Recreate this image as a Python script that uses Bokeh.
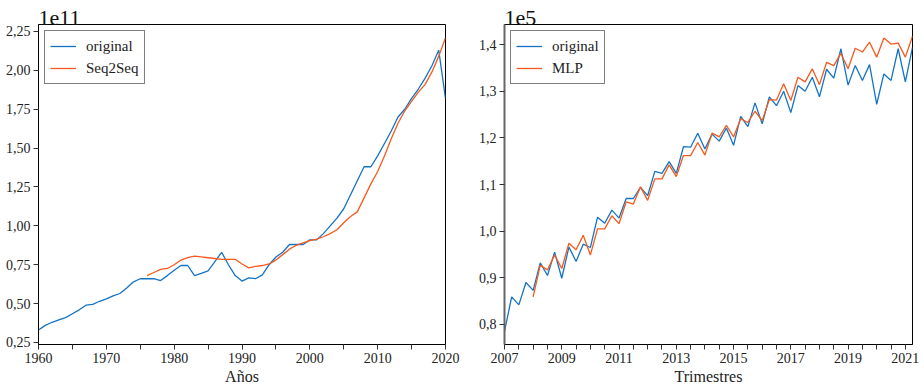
from bokeh.plotting import figure
from bokeh.layouts import row
from bokeh.models import Legend, LegendItem, FixedTicker, CustomJSTickFormatter, Range1d
from bokeh.embed import file_html
from bokeh.resources import INLINE

# ---------------- data ----------------
years = list(range(1960, 2021))
gdp_original = [0.33, 0.36, 0.38, 0.395, 0.41, 0.435, 0.46, 0.49, 0.495, 0.515,
                0.53, 0.55, 0.565, 0.60, 0.64, 0.66, 0.66, 0.66, 0.648, 0.68,
                0.715, 0.745, 0.745, 0.68, 0.695, 0.71, 0.77, 0.83, 0.75, 0.68,
                0.645, 0.665, 0.66, 0.685, 0.75, 0.80, 0.83, 0.88, 0.88, 0.88,
                0.91, 0.91, 0.95, 1.00, 1.05, 1.11, 1.20, 1.29, 1.38, 1.38,
                1.45, 1.53, 1.61, 1.70, 1.75, 1.82, 1.88, 1.95, 2.03, 2.13,
                1.82]
seq_years = list(range(1976, 2021))
gdp_seq2seq = [0.68, 0.70, 0.72, 0.726, 0.75, 0.78, 0.795, 0.805, 0.80, 0.795,
               0.79, 0.785, 0.785, 0.785, 0.755, 0.73, 0.74, 0.745, 0.755, 0.78,
               0.815, 0.85, 0.875, 0.89, 0.905, 0.915, 0.93, 0.95, 0.975, 1.02,
               1.06, 1.09, 1.18, 1.27, 1.35, 1.45, 1.56, 1.66, 1.74, 1.80,
               1.86, 1.91, 1.99, 2.09, 2.21]

quarters = [2007 + 0.25 * i for i in range(58)]
q_original = [0.785, 0.859, 0.842, 0.890, 0.873, 0.932, 0.905, 0.955, 0.899, 0.966,
              0.935, 0.972, 0.965, 1.030, 1.017, 1.045, 1.028, 1.070, 1.070, 1.094,
              1.076, 1.128, 1.124, 1.149, 1.124, 1.181, 1.180, 1.210, 1.176, 1.208,
              1.193, 1.221, 1.184, 1.246, 1.224, 1.275, 1.230, 1.288, 1.269, 1.300,
              1.254, 1.312, 1.300, 1.330, 1.288, 1.347, 1.328, 1.391, 1.313, 1.355,
              1.323, 1.357, 1.272, 1.337, 1.323, 1.391, 1.320, 1.394]
mlp_quarters = quarters[4:]
q_mlp = [0.859, 0.927, 0.917, 0.949, 0.920, 0.974, 0.960, 0.991, 0.949,
         1.005, 1.005, 1.033, 1.016, 1.063, 1.058, 1.095, 1.066, 1.112, 1.112,
         1.142, 1.117, 1.162, 1.162, 1.190, 1.163, 1.210, 1.202, 1.227, 1.202,
         1.241, 1.233, 1.257, 1.237, 1.282, 1.281, 1.316, 1.280, 1.330, 1.320,
         1.348, 1.314, 1.362, 1.355, 1.381, 1.348, 1.392, 1.384, 1.405, 1.373,
         1.414, 1.401, 1.403, 1.373, 1.418]

left_yticks = [0.25, 0.50, 0.75, 1.00, 1.25, 1.50, 1.75, 2.00, 2.25]
left_xticks = list(range(1960, 2021, 5))
right_yticks = [0.8, 0.9, 1.0, 1.1, 1.2, 1.3, 1.4]
right_xticks = [2007 + 0.5 * i for i in range(29)]

BLUE = "#1573c4"
ORANGE = "#f65a1e"
FONT = "Liberation Serif"


def style(p, title):
    p.title.text = title
    p.title.text_font = FONT
    p.title.text_font_size = "22px"
    p.title.text_font_style = "normal"
    p.title.text_color = "#111111"
    p.title.offset = 0
    p.title.standoff = 0
    p.xgrid.visible = False
    p.ygrid.visible = False
    p.outline_line_color = "black"
    p.outline_line_width = 1
    p.axis.major_label_text_font = FONT
    p.axis.major_label_text_font_size = "14px"
    p.axis.major_label_text_color = "#222222"
    p.axis.axis_label_text_font = FONT
    p.axis.axis_label_text_font_size = "16px"
    p.axis.axis_label_text_font_style = "normal"
    p.axis.axis_label_text_color = "#222222"
    p.axis.major_tick_out = 5
    p.axis.major_tick_in = 0
    p.axis.minor_tick_out = 0
    p.axis.minor_tick_in = 0
    p.axis.major_label_standoff = 3
    p.axis.axis_line_color = "black"
    p.axis.major_tick_line_color = "#333333"
    p.xaxis.axis_label_standoff = 2


def add_legend(p, r1, r2, l1, l2):
    leg = Legend(items=[LegendItem(label=l1, renderers=[r1]),
                        LegendItem(label=l2, renderers=[r2])],
                 location="top_left")
    leg.label_text_font = FONT
    leg.label_text_font_size = "15px"
    leg.label_text_color = "#222222"
    leg.border_line_color = "black"
    leg.border_line_width = 1
    leg.background_fill_alpha = 1
    leg.glyph_width = 26
    leg.glyph_height = 20
    leg.label_height = 20
    leg.spacing = 2
    leg.padding = 5
    leg.margin = 6
    leg.label_standoff = 10
    p.add_layout(leg)


# ---------------- left plot ----------------
p1 = figure(width=462, height=390, output_backend="svg", toolbar_location=None,
            x_range=Range1d(1960, 2020), y_range=Range1d(0.237, 2.295),
            min_border_left=38, min_border_right=17, min_border_top=24, min_border_bottom=46)
p1.xaxis.axis_label = "Años"
p1.xaxis.ticker = FixedTicker(ticks=left_xticks)
p1.xaxis.formatter = CustomJSTickFormatter(code="return (Math.round(tick) % 10 == 0) ? Math.round(tick).toString() : '';")
p1.yaxis.ticker = FixedTicker(ticks=left_yticks)
p1.yaxis.formatter = CustomJSTickFormatter(code="return tick.toFixed(2).replace('.', ',');")
style(p1, "1e11")
r1 = p1.line(years, gdp_original, line_color=BLUE, line_width=1.3)
r2 = p1.line(seq_years, gdp_seq2seq, line_color=ORANGE, line_width=1.3)
add_legend(p1, r1, r2, "original", "Seq2Seq")

# ---------------- right plot ----------------
p2 = figure(width=462, height=390, output_backend="svg", toolbar_location=None,
            x_range=Range1d(2007, 2021.25), y_range=Range1d(0.757, 1.443),
            min_border_left=42, min_border_right=12, min_border_top=24, min_border_bottom=46)
p2.xaxis.axis_label = "Trimestres"
p2.xaxis.ticker = FixedTicker(ticks=right_xticks)
p2.xaxis.formatter = CustomJSTickFormatter(
    code="var r = Math.round(tick); return (Math.abs(tick - r) < 1e-6 && Math.abs(r % 2) == 1) ? r.toString() : '';")
p2.yaxis.ticker = FixedTicker(ticks=right_yticks)
p2.yaxis.formatter = CustomJSTickFormatter(code="return tick.toFixed(1).replace('.', ',');")
style(p2, "1e5")
p2.yaxis.axis_line_color = "#666666"
p2.yaxis.axis_line_width = 2
r3 = p2.line(quarters, q_original, line_color=BLUE, line_width=1.3)
r4 = p2.line(mlp_quarters, q_mlp, line_color=ORANGE, line_width=1.3)
add_legend(p2, r3, r4, "original", "MLP")

layout = row(p1, p2)
open("out.html", "w").write(file_html(layout, INLINE))
